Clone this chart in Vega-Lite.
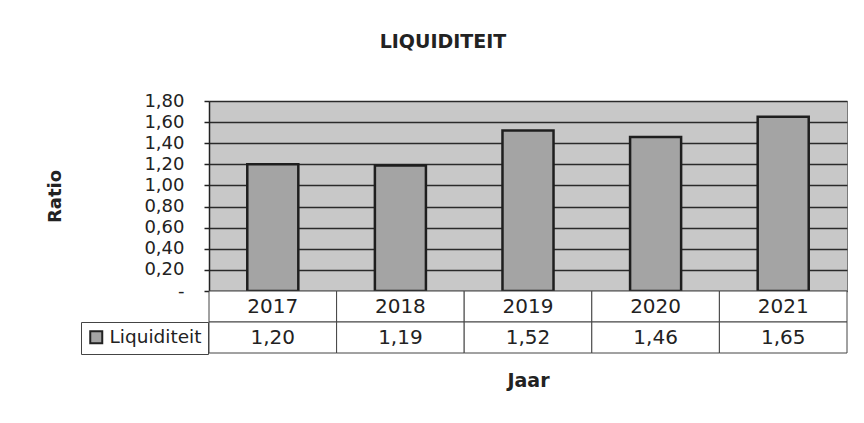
{
  "$schema": "https://vega.github.io/schema/vega-lite/v6.json",
  "padding": {"left": 46, "top": 32, "right": 10, "bottom": 10},
  "background": "white",
  "data": {"values": [
    {"Jaar": "2017", "Liquiditeit": 1.20},
    {"Jaar": "2018", "Liquiditeit": 1.19},
    {"Jaar": "2019", "Liquiditeit": 1.52},
    {"Jaar": "2020", "Liquiditeit": 1.46},
    {"Jaar": "2021", "Liquiditeit": 1.65}
  ]},
  "title": {"text": "LIQUIDITEIT", "font": "DejaVu Sans", "fontSize": 19, "fontWeight": "bold", "color": "#222", "anchor": "middle", "offset": 40, "dx": -4},
  "config": {
    "locale": {"number": {"decimal": ",", "thousands": ".", "grouping": [3], "currency": ["€ ", ""]}},
    "view": {"stroke": null},
    "font": "DejaVu Sans"
  },
  "spacing": 0,
  "bounds": "flush",
  "resolve": {"scale": {"x": "independent", "color": "independent"}, "legend": {"color": "independent"}},
  "vconcat": [
    {
      "width": 638,
      "height": 190,
      "view": {"fill": "#c8c8c8", "stroke": "#7a7a7a", "strokeWidth": 1},
      "mark": {"type": "bar", "stroke": "#1e1e1e", "strokeWidth": 2.5},
      "encoding": {
        "x": {"field": "Jaar", "type": "nominal", "axis": null, "scale": {"paddingInner": 0.6, "paddingOuter": 0.3}},
        "y": {
          "field": "Liquiditeit", "type": "quantitative",
          "scale": {"domain": [0, 1.8], "nice": false},
          "axis": {
            "values": [0, 0.2, 0.4, 0.6, 0.8, 1.0, 1.2, 1.4, 1.6, 1.8],
            "format": ".2f",
            "labelExpr": "datum.value === 0 ? '-\u00a0\u00a0' : datum.label",
            "title": "Ratio", "titleFont": "DejaVu Sans", "titleFontSize": 18, "titleFontWeight": "bold", "titleColor": "#222", "titlePadding": 79,
            "labelFont": "DejaVu Sans", "labelFontSize": 18, "labelColor": "#222", "labelPadding": 20, "labelOverlap": false, "labelFlush": false,
            "tickSize": 5, "tickColor": "#222", "tickWidth": 1.5,
            "domainColor": "#222", "domainWidth": 1.5,
            "grid": true, "gridColor": "#2a2a2a", "gridWidth": 1.5
          }
        },
        "color": {
          "datum": "Liquiditeit",
          "scale": {"range": ["#a4a4a4"]},
          "legend": {
            "orient": "none", "legendX": -128, "legendY": 221, "title": null,
            "symbolType": "square", "symbolSize": 144, "symbolStrokeColor": "#222", "symbolStrokeWidth": 2,
            "labelFont": "DejaVu Sans", "labelFontSize": 18.5, "labelColor": "#222", "labelOffset": 4, "labelLimit": 200,
            "strokeColor": "#444", "padding": 6
          }
        }
      }
    },
    {
      "width": 638,
      "height": 62,
      "encoding": {
        "x": {
          "field": "Jaar", "type": "nominal",
          "scale": {"paddingInner": 0, "paddingOuter": 0},
          "axis": {"title": "Jaar", "labels": false, "ticks": false, "domain": false, "titleFont": "DejaVu Sans", "titleFontSize": 19, "titleFontWeight": "bold", "titleColor": "#222", "titlePadding": 18}
        }
      },
      "layer": [
        {
          "mark": {"type": "rect", "fill": "white", "stroke": "#444", "strokeWidth": 1},
          "encoding": {"y": {"datum": "jaar", "type": "nominal", "scale": {"domain": ["jaar", "waarde"], "paddingInner": 0, "paddingOuter": 0}, "axis": null}}
        },
        {
          "mark": {"type": "rect", "fill": "white", "stroke": "#444", "strokeWidth": 1},
          "encoding": {"y": {"datum": "waarde", "type": "nominal"}}
        },
        {
          "mark": {"type": "text", "font": "DejaVu Sans", "fontSize": 20, "color": "#222"},
          "encoding": {"y": {"datum": "jaar", "type": "nominal"}, "text": {"field": "Jaar", "type": "nominal"}}
        },
        {
          "mark": {"type": "text", "font": "DejaVu Sans", "fontSize": 20, "color": "#222"},
          "encoding": {"y": {"datum": "waarde", "type": "nominal"}, "text": {"field": "Liquiditeit", "type": "quantitative", "format": ".2f"}}
        }
      ]
    }
  ]
}
